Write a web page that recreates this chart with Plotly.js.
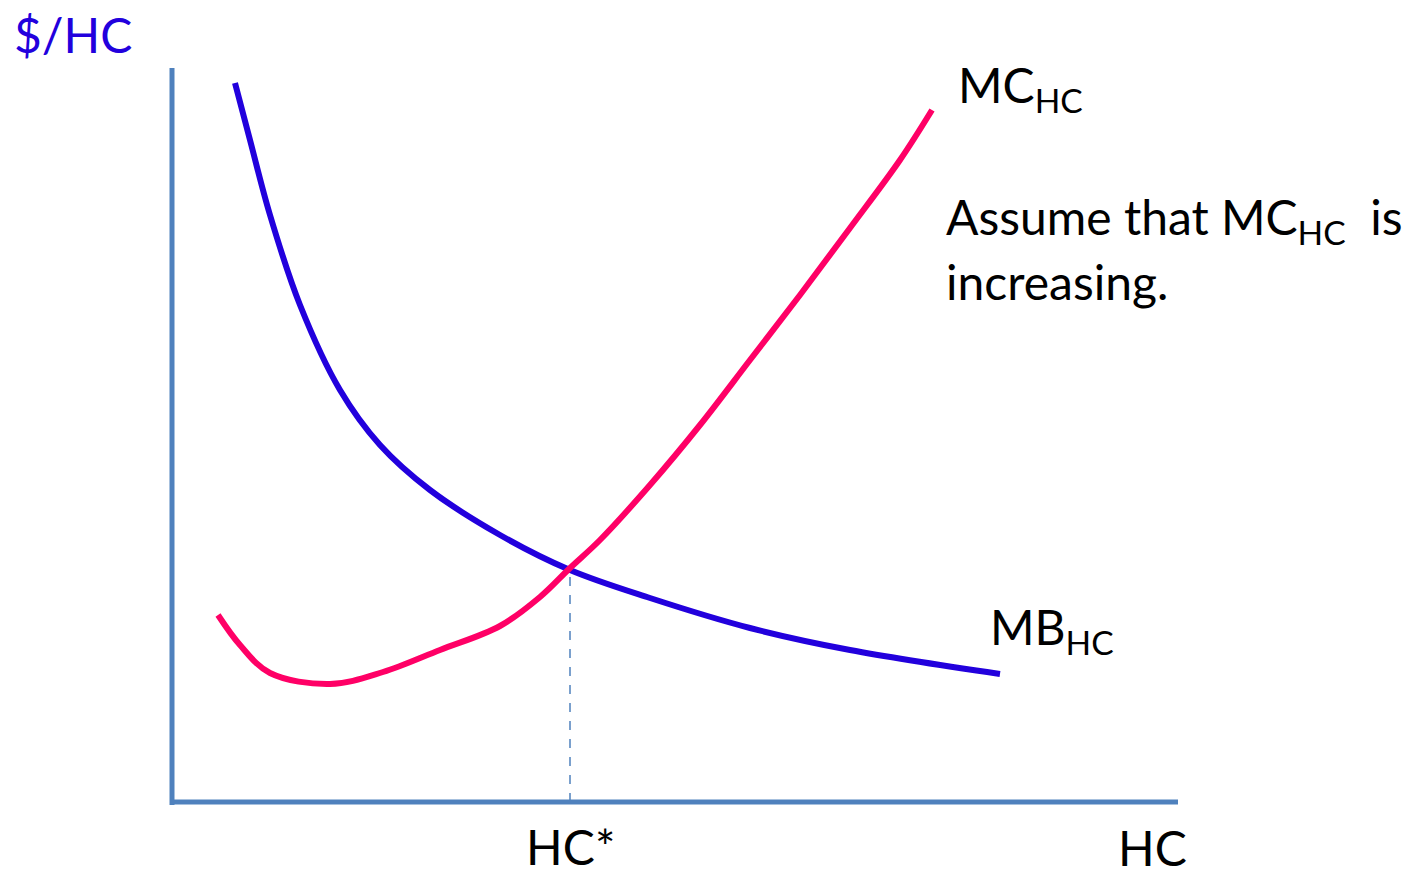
<!DOCTYPE html>
<html>
<head>
<meta charset="utf-8">
<script src="https://cdn.plot.ly/plotly-3.0.1.min.js"></script>
<style>html,body{margin:0;padding:0;background:#fff;}#chart{width:1410px;height:877px;}</style>
</head>
<body>
<div id="chart"></div>
<script>
// Quantity of health care (HC) and $/HC values
const mbHC = [6.3, 7.8, 9.8, 12.8, 16.8, 20.8, 25.8, 32.8, 39.8, 47.8, 57.8, 67.8, 82.8];
const mbVal = [71.9, 66.2, 58.7, 49.7, 41.2, 35.7, 31.2, 26.7, 23.2, 20.4, 17.4, 15.2, 12.8];

const mcHC = [4.6, 6.8, 9.8, 15.8, 21.1, 26.8, 32.8, 36.8, 39.8, 42.8, 47.8, 52.8, 57.8, 62.8, 67.8, 72.8, 76.0];
const mcVal = [18.7, 15.7, 12.9, 11.8, 13.0, 15.2, 17.6, 20.5, 23.4, 26.2, 31.7, 37.7, 44.2, 50.7, 57.4, 64.2, 69.2];

const eqHC = [39.8, 39.8];
const eqVal = [0, 23.3];

const axisLenX = 100.6;
const axisLenY = 73.4;

const BLUE = '#2200DD';
const PINK = '#FF0066';
const AXIS = '#4F81BD';
const FONT = 'Lato, "Open Sans", sans-serif';

const traces = [
  {x: eqHC, y: eqVal, mode: 'lines', line: {color: AXIS, width: 1.5, dash: 'dash'}, hoverinfo: 'skip'},
  {x: mbHC, y: mbVal, mode: 'lines', line: {color: BLUE, width: 6, shape: 'spline', smoothing: 1}, hoverinfo: 'skip'},
  {x: mcHC, y: mcVal, mode: 'lines', line: {color: PINK, width: 6, shape: 'spline', smoothing: 1}, hoverinfo: 'skip'}
];

function px(x){ return x/1410; }
function py(y){ return 1 - y/877; }

const annText = (text, x, y, color, size) => ({
  text: text, xref: 'paper', yref: 'paper', x: px(x), y: py(y),
  xanchor: 'left', yanchor: 'middle', showarrow: false,
  font: {family: FONT, size: size, color: color}, align: 'left'
});

const layout = {
  width: 1410, height: 877,
  margin: {l: 0, r: 0, t: 0, b: 0},
  paper_bgcolor: '#ffffff', plot_bgcolor: '#ffffff',
  showlegend: false,
  xaxis: {range: [-17.2, 123.8], visible: false, fixedrange: true},
  yaxis: {range: [-7.5, 80.2], visible: false, fixedrange: true},
  shapes: [
    {type: 'line', xref: 'x', yref: 'y', x0: 0, y0: -0.3, x1: 0, y1: axisLenY, line: {color: AXIS, width: 5}},
    {type: 'line', xref: 'x', yref: 'y', x0: 0, y0: 0, x1: axisLenX, y1: 0, line: {color: AXIS, width: 5}}
  ],
  annotations: [
    annText('$/HC', 12, 34, BLUE, 48),
    annText('MC<sub>HC</sub>', 956, 88, '#000', 48),
    annText('Assume that MC<sub>HC</sub>  is', 944, 220, '#000', 48),
    annText('increasing.', 944, 281, '#000', 48),
    annText('MB<sub>HC</sub>', 988, 630, '#000', 48),
    annText('HC*', 524, 846, '#000', 48),
    annText('HC', 1116, 847, '#000', 48)
  ]
};

Plotly.newPlot('chart', traces, layout, {staticPlot: true, displayModeBar: false});
</script>
</body>
</html>
